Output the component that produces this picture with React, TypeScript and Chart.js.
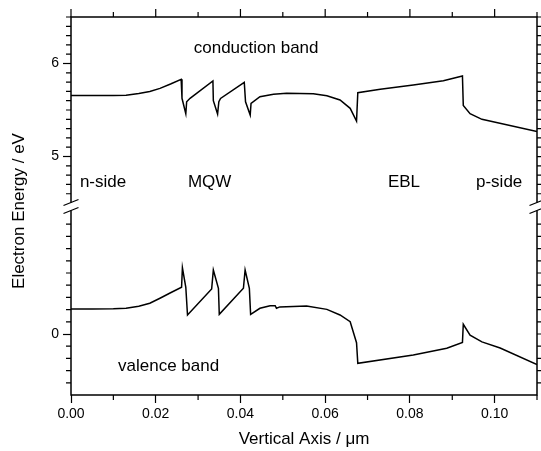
import React, { useEffect, useRef } from "react";
import { Chart, registerables } from "chart.js";

Chart.register(...registerables);

// ---- data (x in µm, energy in eV) ----
const conductionX = [
  0.0, 0.005, 0.01, 0.013, 0.016, 0.0186, 0.021, 0.0235, 0.026,
  0.0262, 0.0271, 0.0273, 0.0281, 0.0335,
  0.0336, 0.0346, 0.0349, 0.0353, 0.0409,
  0.0412, 0.0423, 0.0425, 0.0446, 0.0478, 0.0509, 0.0572, 0.0604, 0.0635, 0.0659, 0.0674,
  0.0677, 0.073, 0.0808, 0.0879, 0.0924,
  0.0926, 0.0942, 0.097, 0.11,
];
const conductionE = [
  5.655, 5.655, 5.656, 5.66, 5.677, 5.7, 5.733, 5.78, 5.83,
  5.626, 5.46, 5.589, 5.626, 5.812,
  5.6, 5.457, 5.589, 5.625, 5.798,
  5.589, 5.446, 5.572, 5.643, 5.669, 5.68, 5.675, 5.654, 5.608, 5.518, 5.382,
  5.686, 5.723, 5.769, 5.815, 5.865,
  5.55, 5.46, 5.4, 5.27,
];

const valenceX = [
  0.0, 0.005, 0.01, 0.013, 0.016, 0.0186, 0.021, 0.0235, 0.0261,
  0.0263, 0.0271, 0.0275, 0.0332,
  0.0336, 0.0348, 0.035, 0.0407,
  0.0411, 0.0421, 0.0424, 0.0446, 0.047, 0.0482, 0.0485, 0.0493, 0.0556, 0.0604, 0.0635, 0.0659, 0.0674,
  0.0677, 0.0808, 0.0887, 0.0924,
  0.0926, 0.0942, 0.097, 0.1013, 0.11,
];
const valenceE = [
  0.205, 0.205, 0.207, 0.212, 0.228, 0.252, 0.293, 0.338, 0.383,
  0.543, 0.383, 0.156, 0.369,
  0.525, 0.375, 0.161, 0.375,
  0.525, 0.375, 0.161, 0.211, 0.232, 0.232, 0.211, 0.222, 0.23, 0.202, 0.156, 0.101, -0.071,
  -0.24, -0.172, -0.117, -0.07,
  0.08, -0.01, -0.065, -0.115, -0.25,
];

const xTickValues = [0, 0.02, 0.04, 0.06, 0.08, 0.1];
const xMinorValues = [0.01, 0.03, 0.05, 0.07, 0.09, 0.11];
const upperTickValues = [5, 6];
const lowerTickValues = [0];
const upperMin = 4.452;
const upperMax = 6.5;
const lowerMin = -0.5;
const lowerMax = 1.037;

const labelTexts = ["conduction band", "n-side", "MQW", "EBL", "p-side", "valence band"];
const labelX = [0.0437, 0.0021, 0.0276, 0.0748, 0.0956, 0.0111];
const labelY = [6.167, 4.726, 4.726, 4.726, 4.726, -0.262];
const labelAxis = ["yTop", "yTop", "yTop", "yTop", "yTop", "yBot"];
const labelAlign = ["center", "left", "left", "left", "left", "left"];

const FONT = "'Liberation Sans', Arial, Helvetica, sans-serif";

function range(a: number, b: number, step: number): number[] {
  const out: number[] = [];
  const n = Math.round((b - a) / step);
  for (let i = 0; i <= n; i++) out.push(+(a + i * step).toFixed(6));
  return out;
}

const framePlugin = {
  id: "frame",
  afterDraw(chart: any) {
    const { ctx, chartArea } = chart;
    const { left, right, top, bottom } = chartArea;
    const xs = chart.scales.x;
    const yt = chart.scales.yTop;
    const yb = chart.scales.yBot;
    const by = yt.top < yb.top ? yt.bottom : yb.bottom;
    ctx.save();
    ctx.strokeStyle = "#000";
    ctx.lineWidth = 1.5;
    ctx.lineCap = "butt";
    ctx.beginPath();
    ctx.moveTo(left - 0.75, top);
    ctx.lineTo(right + 0.75, top);
    ctx.moveTo(left - 0.75, bottom);
    ctx.lineTo(right + 0.75, bottom);
    for (const xx of [left, right]) {
      ctx.moveTo(xx, top);
      ctx.lineTo(xx, by - 5);
      ctx.moveTo(xx, by + 3);
      ctx.lineTo(xx, bottom);
    }
    ctx.stroke();

    ctx.lineWidth = 1.2;
    ctx.beginPath();
    for (const v of xTickValues) {
      const px = xs.getPixelForValue(v);
      ctx.moveTo(px, top);
      ctx.lineTo(px, top - 8);
    }
    for (const v of xMinorValues) {
      const px = xs.getPixelForValue(v);
      ctx.moveTo(px, top);
      ctx.lineTo(px, top - 5);
      ctx.moveTo(px, bottom);
      ctx.lineTo(px, bottom + 5);
    }
    for (const v of range(4.6, 6.5, 0.1)) {
      const py = yt.getPixelForValue(v);
      const major = upperTickValues.some((m) => Math.abs(m - v) < 1e-6);
      if (!major) {
        ctx.moveTo(left, py);
        ctx.lineTo(left - 5, py);
      }
      ctx.moveTo(right, py);
      ctx.lineTo(right + (major ? 8 : 5), py);
    }
    for (const v of range(-0.4, 0.9, 0.1)) {
      const py = yb.getPixelForValue(v);
      const major = lowerTickValues.some((m) => Math.abs(m - v) < 1e-6);
      if (!major) {
        ctx.moveTo(left, py);
        ctx.lineTo(left - 5, py);
      }
      ctx.moveTo(right, py);
      ctx.lineTo(right + (major ? 8 : 5), py);
    }
    ctx.stroke();

    ctx.lineWidth = 1.3;
    ctx.beginPath();
    for (const xx of [left, right]) {
      ctx.moveTo(xx - 7.5, by - 2);
      ctx.lineTo(xx + 7.5, by - 8);
      ctx.moveTo(xx - 7.5, by + 6);
      ctx.lineTo(xx + 7.5, by);
    }
    ctx.stroke();

    ctx.fillStyle = "#000";
    ctx.font = `17px ${FONT}`;
    ctx.textBaseline = "middle";
    labelTexts.forEach((t, i) => {
      const ys = chart.scales[labelAxis[i]];
      ctx.textAlign = labelAlign[i] as CanvasTextAlign;
      ctx.fillText(t, xs.getPixelForValue(labelX[i]), ys.getPixelForValue(labelY[i]));
    });

    ctx.save();
    ctx.translate(19, (top + bottom) / 2 + 5);
    ctx.rotate(-Math.PI / 2);
    ctx.textAlign = "center";
    ctx.fillText("Electron Energy / eV", 0, 0);
    ctx.restore();
    ctx.restore();
  },
};

export default function App() {
  const ref = useRef<HTMLCanvasElement>(null);
  useEffect(() => {
    if (!ref.current) return;
    const tickFont = { family: FONT, size: 14 };
    const gridOpts = {
      display: true,
      drawOnChartArea: false,
      drawTicks: true,
      tickLength: 8,
      tickWidth: 1.2,
      tickColor: "#000",
      color: "#000",
    };
    const chart = new Chart(ref.current, {
      type: "line",
      data: {
        datasets: [
          {
            label: "conduction band",
            data: conductionX.map((x, i) => ({ x, y: conductionE[i] })),
            yAxisID: "yTop",
            borderColor: "#000",
            borderWidth: 1.5,
            pointRadius: 0,
            tension: 0,
            fill: false,
          },
          {
            label: "valence band",
            data: valenceX.map((x, i) => ({ x, y: valenceE[i] })),
            yAxisID: "yBot",
            borderColor: "#000",
            borderWidth: 1.5,
            pointRadius: 0,
            tension: 0,
            fill: false,
          },
        ],
      },
      options: {
        animation: false,
        responsive: false,
        devicePixelRatio: 1,
        layout: { padding: { top: 17, right: 4, left: 0, bottom: 0 } },
        plugins: { legend: { display: false }, tooltip: { enabled: false } },
        scales: {
          x: {
            type: "linear",
            position: "bottom",
            min: 0,
            max: 0.11,
            grid: gridOpts,
            border: { display: false },
            afterBuildTicks: (s: any) => {
              s.ticks = xTickValues.map((v) => ({ value: v }));
            },
            afterFit: (s: any) => {
              s.height = 56;
            },
            ticks: {
              autoSkip: false,
              maxRotation: 0,
              padding: 3,
              color: "#000",
              font: tickFont,
              callback: (v: any) => Number(v).toFixed(2),
            },
            title: {
              display: true,
              text: "Vertical Axis / μm",
              color: "#000",
              font: { family: FONT, size: 17 },
              padding: { top: 0, bottom: 1 },
            },
          },
          yBot: {
            type: "linear",
            position: "left",
            stack: "energy",
            stackWeight: 187.5,
            min: lowerMin,
            max: lowerMax,
            grid: gridOpts,
            border: { display: false },
            afterBuildTicks: (s: any) => {
              s.ticks = lowerTickValues.map((v) => ({ value: v }));
            },
            afterFit: (s: any) => {
              s.width = 71;
            },
            ticks: { padding: 4, color: "#000", font: tickFont, callback: (v: any) => String(v) },
          },
          yTop: {
            type: "linear",
            position: "left",
            stack: "energy",
            stackWeight: 190.5,
            min: upperMin,
            max: upperMax,
            grid: gridOpts,
            border: { display: false },
            afterBuildTicks: (s: any) => {
              s.ticks = upperTickValues.map((v) => ({ value: v }));
            },
            afterFit: (s: any) => {
              s.width = 71;
            },
            ticks: { padding: 4, color: "#000", font: tickFont, callback: (v: any) => String(v) },
          },
        },
      } as any,
      plugins: [framePlugin],
    });
    return () => chart.destroy();
  }, []);
  return (
    <div style={{ position: "absolute", left: 0, top: 0, width: 541, height: 451, background: "#fff" }}>
      <canvas ref={ref} width={541} height={451} style={{ display: "block", width: 541, height: 451 }} />
    </div>
  );
}
